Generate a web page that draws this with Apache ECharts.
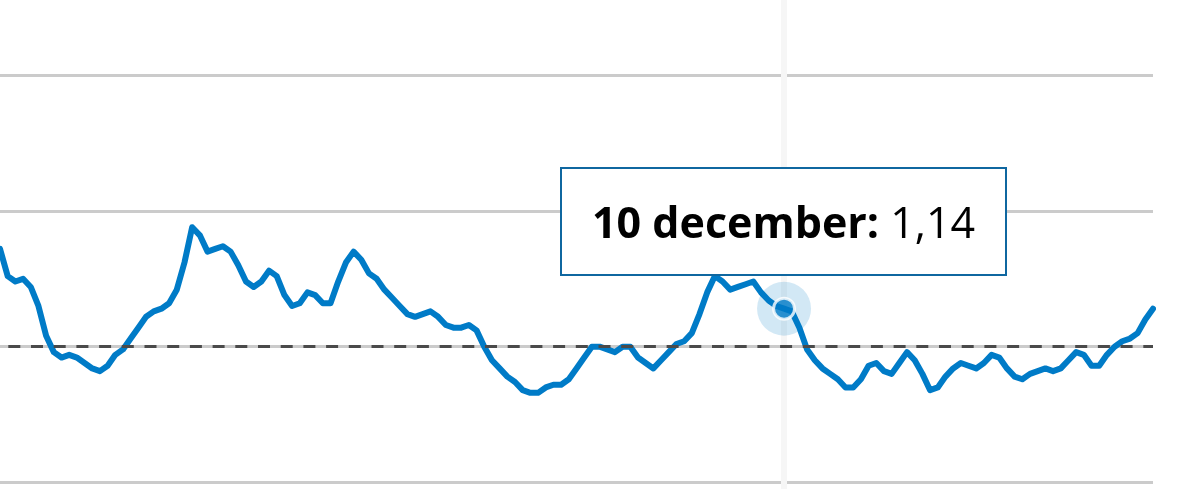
<!DOCTYPE html>
<html>
<head>
<meta charset="utf-8">
<script src="https://cdn.jsdelivr.net/npm/echarts@6/dist/echarts.min.js"></script>
<style>
  html, body { margin: 0; padding: 0; background: #ffffff; }
  #chart { width: 1200px; height: 489px; }
</style>
</head>
<body>
<div id="chart"></div>
<script>
// ---- data ----
const monthNames = ['januari','februari','maart','april','mei','juni','juli','augustus','september','oktober','november','december'];
const startDate = [2020, 7, 30]; // 30 augustus
const values = [
  1.36, 1.26, 1.24, 1.25, 1.22, 1.15, 1.04, 0.98, 0.96, 0.97,
  0.96, 0.94, 0.92, 0.91, 0.93, 0.97, 0.99, 1.03, 1.07, 1.11,
  1.13, 1.14, 1.16, 1.21, 1.31, 1.44, 1.41, 1.35, 1.36, 1.37,
  1.35, 1.30, 1.24, 1.22, 1.24, 1.28, 1.26, 1.19, 1.15, 1.16,
  1.20, 1.19, 1.16, 1.16, 1.24, 1.31, 1.35, 1.32, 1.27, 1.25,
  1.21, 1.18, 1.15, 1.12, 1.11, 1.12, 1.13, 1.11, 1.08, 1.07,
  1.07, 1.08, 1.06, 1.00, 0.95, 0.92, 0.89, 0.87, 0.84, 0.83,
  0.83, 0.85, 0.86, 0.86, 0.88, 0.92, 0.96, 1.00, 1.00, 0.99,
  0.98, 1.00, 1.00, 0.96, 0.94, 0.92, 0.95, 0.98, 1.01, 1.02,
  1.05, 1.12, 1.20, 1.26, 1.24, 1.21, 1.22, 1.23, 1.24, 1.20,
  1.17, 1.15, 1.14, 1.13, 1.07, 0.99, 0.95, 0.92, 0.90, 0.88,
  0.85, 0.85, 0.88, 0.93, 0.94, 0.91, 0.90, 0.94, 0.98, 0.95,
  0.90, 0.84, 0.85, 0.89, 0.92, 0.94, 0.93, 0.92, 0.94, 0.97,
  0.96, 0.92, 0.89, 0.88, 0.90, 0.91, 0.92, 0.91, 0.92, 0.95,
  0.98, 0.97, 0.93, 0.93, 0.97, 1.00, 1.02, 1.03, 1.05, 1.10,
  1.14
];
const referenceLevel = 1;
const highlightIndex = 102;
const yTicks = { min: 0, max: 2.5, interval: 0.5 };

// category labels (dates)
const categories = values.map(function (_, i) {
  const d = new Date(Date.UTC(startDate[0], startDate[1], startDate[2] + i));
  return d.getUTCDate() + ' ' + monthNames[d.getUTCMonth()];
});

// ---- chart ----
const chart = echarts.init(document.getElementById('chart'), null, { renderer: 'canvas' });
const lineBlue = '#007bc7';

const option = {
  animation: false,
  backgroundColor: '#ffffff',
  grid: { left: 0, right: 47, top: -60.7, height: 679, containLabel: false, outerBoundsMode: 'none' },
  xAxis: {
    type: 'category',
    data: categories,
    boundaryGap: false,
    axisLine: { show: false },
    axisTick: { show: false },
    axisLabel: { show: false },
    splitLine: { show: false }
  },
  yAxis: {
    type: 'value',
    min: yTicks.min,
    max: yTicks.max,
    interval: yTicks.interval,
    axisLine: { show: false },
    axisTick: { show: false },
    axisLabel: { show: false },
    splitLine: { show: true, lineStyle: { color: '#cbcbcb', width: 3 } }
  },
  tooltip: {
    trigger: 'axis',
    triggerOn: 'none',
    alwaysShowContent: true,
    transitionDuration: 0,
    position: [560, 167],
    backgroundColor: '#ffffff',
    borderColor: '#0f67a0',
    borderWidth: 2,
    padding: [30, 30],
    textStyle: { color: '#000000', fontFamily: 'Open Sans', fontSize: 43 },
    extraCssText: 'box-shadow:none;border-radius:0;line-height:45px;white-space:nowrap;',
    axisPointer: {
      type: 'line',
      lineStyle: { color: '#f6f6f6', width: 6, type: 'solid' },
      z: 1
    },
    formatter: function (params) {
      const p = params.find(function (q) { return q.seriesIndex === 1; }) || params[0];
      const v = values[p.dataIndex].toFixed(2).replace('.', ',');
      return '<span style="font-weight:700">' + categories[p.dataIndex] + ':</span> ' + v;
    }
  },
  series: [
    {
      name: 'halo',
      type: 'scatter',
      z: 1,
      silent: true,
      symbolSize: 54,
      itemStyle: { color: 'rgba(0,123,199,0.22)' },
      emphasis: { disabled: true },
      tooltip: { show: false },
      data: [[highlightIndex, values[highlightIndex]]]
    },
    {
      name: 'R',
      type: 'line',
      z: 2,
      data: values,
      symbol: 'none',
      smooth: false,
      lineStyle: { color: lineBlue, width: 6, join: 'round', cap: 'round' },
      emphasis: { disabled: true },
      markLine: {
        silent: true,
        symbol: ['none', 'none'],
        label: { show: false },
        lineStyle: { color: '#4a4a4a', width: 3, type: [12, 10.7], dashOffset: 14.4 },
        data: [{ yAxis: referenceLevel }]
      }
    },
    {
      name: 'dot',
      type: 'scatter',
      z: 3,
      silent: true,
      symbolSize: 21,
      itemStyle: { color: lineBlue, borderColor: '#ffffff', borderWidth: 3 },
      emphasis: { disabled: true },
      data: [[highlightIndex, values[highlightIndex]]]
    }
  ]
};

chart.setOption(option);
chart.dispatchAction({ type: 'showTip', seriesIndex: 1, dataIndex: highlightIndex });
</script>
</body>
</html>
